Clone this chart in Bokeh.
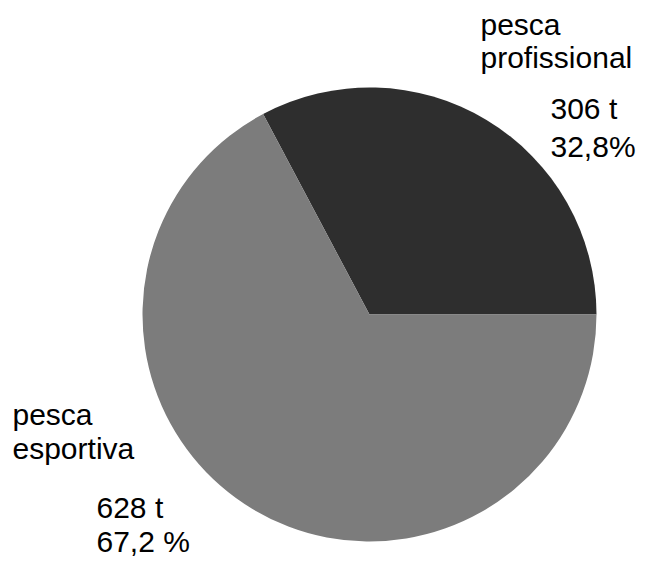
from bokeh.plotting import figure
from bokeh.embed import file_html
from bokeh.resources import INLINE
from bokeh.models import ColumnDataSource
from bokeh.core.properties import value
import math

categories = ["pesca profissional", "pesca esportiva"]
tonnes = [306, 628]
percent_labels = ["32,8%", "67,2 %"]
colors = ["#2e2e2e", "#7c7c7c"]

W, H = 640, 561
p = figure(width=W, height=H, x_range=(0, W), y_range=(0, H),
           output_backend="svg", toolbar_location=None, min_border=0)
p.axis.visible = False
p.grid.visible = False
p.outline_line_color = None
p.background_fill_color = "white"

total = sum(tonnes)
starts, ends = [], []
acc = 0.0
for t in tonnes:
    starts.append(2 * math.pi * acc / total)
    acc += t
    ends.append(2 * math.pi * acc / total)

cx, cy, r = 369, 247, 227
src = ColumnDataSource(dict(start=starts, end=ends, color=colors))
p.wedge(x=cx, y=cy, radius=r, start_angle="start", end_angle="end",
        fill_color="color", line_color=None, source=src)

font = value("Liberation Sans")
fs = "30px"
kw = dict(text_font=font, text_font_size=fs, text_baseline="alphabetic",
          text_color="black")
lab1 = categories[0].split(" ")
lab2 = categories[1].split(" ")
p.text(x=[480, 480], y=[537, 504], text=lab1, **kw)
p.text(x=[550, 550], y=[453, 415], text=[f"{tonnes[0]} t", percent_labels[0]], **kw)
p.text(x=[12, 12], y=[147, 113], text=lab2, **kw)
p.text(x=[96, 96], y=[54, 20], text=[f"{tonnes[1]} t", percent_labels[1]], **kw)

open("out.html", "w").write(file_html(p, INLINE))
